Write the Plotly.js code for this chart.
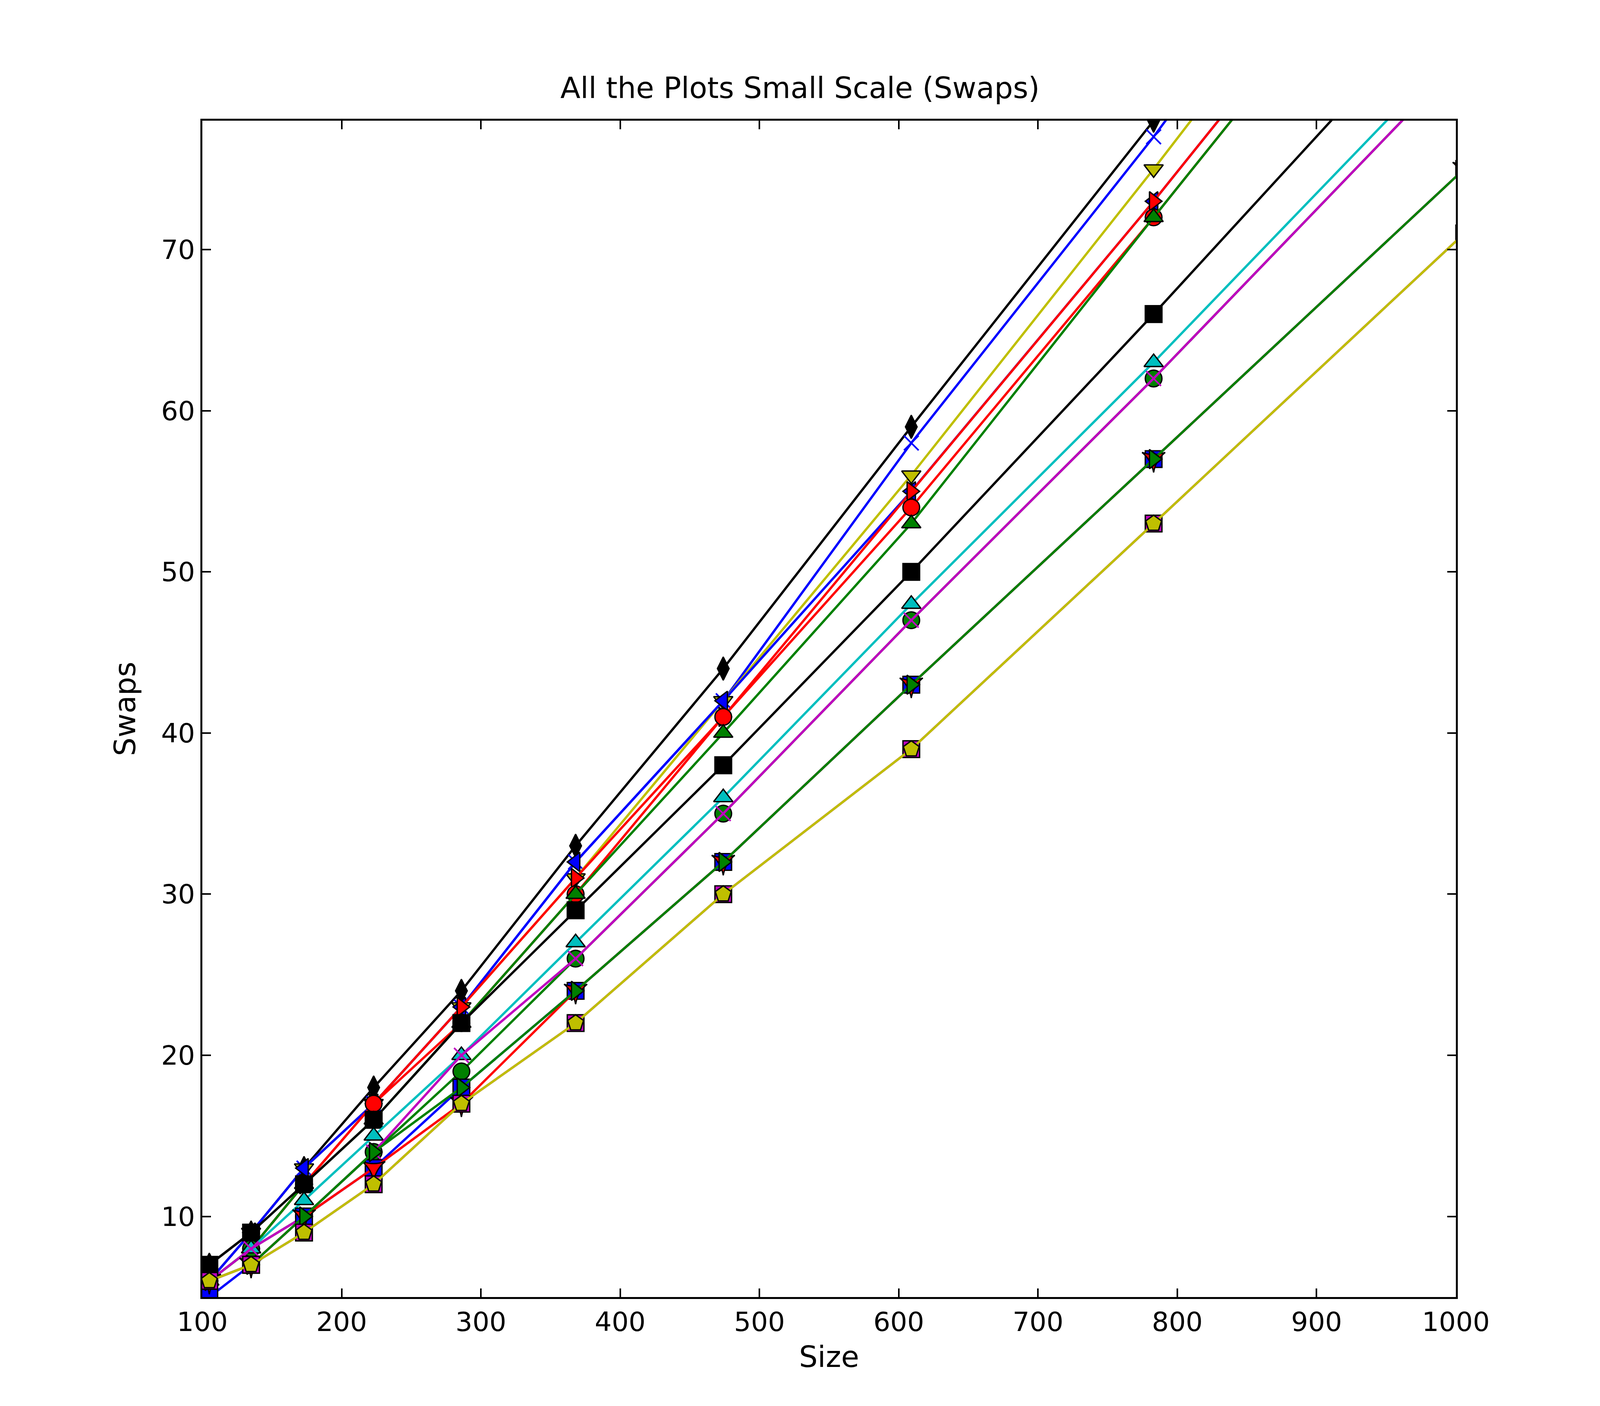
<!DOCTYPE html>
<html>
<head>
<script src="https://cdn.plot.ly/plotly-3.0.1.min.js"></script>
<style>html,body{margin:0;padding:0;overflow:hidden;background:#fff}</style>
</head>
<body>
<div id="myDiv"></div>
<script>
var sizes = [105, 135, 173, 223, 286, 368, 474, 609, 783, 1006];

var blackDiamond   = [7, 9, 13, 18, 24, 33, 44, 59, 78, 104];
var blueX          = [6, 9, 13, 17, 23, 32, 42, 58, 77, 103];
var yellowDown     = [6, 9, 13, 17, 23, 31, 42, 56, 75, 100];
var blueLeft       = [6, 9, 13, 17, 23, 32, 42, 55, 73, 97];
var redRight       = [6, 8, 12, 17, 23, 31, 41, 55, 73, 97];
var redCircle      = [6, 8, 12, 17, 22, 30, 41, 54, 72, 96];
var greenUp        = [6, 8, 12, 16, 22, 30, 40, 53, 72, 96];
var blackSquare    = [7, 9, 12, 16, 22, 29, 38, 50, 66, 87];
var cyanUp         = [6, 8, 11, 15, 20, 27, 36, 48, 63, 83];
var greenCircle    = [6, 8, 10, 14, 19, 26, 35, 47, 62, 82];
var magentaX       = [6, 8, 10, 14, 20, 26, 35, 47, 62, 82];
var blueSquare     = [5, 7, 10, 13, 18, 24, 32, 43, 57, 75];
var redStar        = [6, 7, 10, 13, 17, 24, 32, 43, 57, 75];
var greenRight     = [6, 7, 10, 14, 18, 24, 32, 43, 57, 75];
var magentaSquare  = [6, 7, 9, 12, 17, 22, 30, 39, 53, 71];
var yellowPentagon = [6, 7, 9, 12, 17, 22, 30, 39, 53, 71];

var series = [
	[blackDiamond, '#000000', 'diamond-tall'],
	[blueX, '#0000ff', 'x-thin'],
	[yellowDown, '#bfbf00', 'triangle-down'],
	[blueLeft, '#0000ff', 'triangle-left'],
	[redRight, '#ff0000', 'triangle-right'],
	[redCircle, '#ff0000', 'circle'],
	[greenUp, '#008000', 'triangle-up'],
	[blackSquare, '#000000', 'square'],
	[greenCircle, '#008000', 'circle'],
	[cyanUp, '#00bfbf', 'triangle-up'],
	[magentaX, '#bf00bf', 'x-thin'],
	[blueSquare, '#0000ff', 'square'],
	[redStar, '#ff0000', 'star-triangle-down'],
	[greenRight, '#008000', 'triangle-right'],
	[magentaSquare, '#bf00bf', 'square'],
	[yellowPentagon, '#bfbf00', 'pentagon']
];

// scale everything to the real window size
var W = window.innerWidth, H = window.innerHeight;
var k = W / 4800;

var data = [];
for (var i in series){
	var s = series[i];
	var thin = s[2] == 'x-thin';
	data.push({
		x: sizes,
		y: s[0],
		type: 'scatter',
		mode: 'lines+markers',
		line: {color: s[1], width: 7 * k},
		marker: {symbol: s[2], size: (thin ? 44 : 50) * k, color: s[1],
			line: {color: thin ? s[1] : '#000000', width: (thin ? 5 : 4) * k}},
		showlegend: false
	});
}

var axisStyle = {
	showgrid: false,
	zeroline: false,
	showline: true,
	mirror: 'ticks',
	linecolor: '#000',
	linewidth: 6 * k,
	ticks: 'inside',
	ticklen: 26 * k,
	tickwidth: 5 * k,
	tickcolor: '#000',
	tickfont: {size: 80 * k, color: '#000'}
};

var layout = {
	width: W,
	height: H,
	paper_bgcolor: '#fff',
	plot_bgcolor: '#fff',
	font: {family: 'DejaVu Sans', color: '#000'},
	margin: {l: 607 * k, r: 433 * k, t: 362 * k, b: 327 * k},
	title: {text: 'All the Plots Small Scale (Swaps)', font: {size: 88 * k}, x: 0.5, xanchor: 'center', y: 0.945},
	xaxis: Object.assign({}, axisStyle, {range: [100, 1000], dtick: 100,
		title: {text: 'Size', font: {size: 88 * k}, standoff: 30 * k}}),
	yaxis: Object.assign({}, axisStyle, {range: [5, 78], tickvals: [10, 20, 30, 40, 50, 60, 70],
		title: {text: 'Swaps', font: {size: 88 * k}, standoff: 50 * k}})
};

Plotly.newPlot('myDiv', data, layout, {displayModeBar: false});
</script>
</body>
</html>
